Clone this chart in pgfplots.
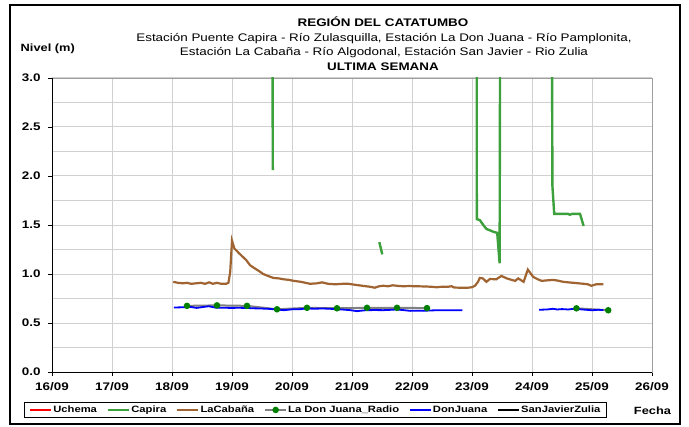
\documentclass[border=0pt]{standalone}
\usepackage{fontspec}
\setmainfont{Liberation Sans}[FakeStretch=1.22]
\usepackage{pgfplots}
\pgfplotsset{compat=1.18}
\definecolor{capira}{RGB}{60,160,60}
\definecolor{cabana}{RGB}{160,100,50}
\definecolor{gridc}{RGB}{208,208,208}
\definecolor{dgreen}{RGB}{0,128,0}
\begin{document}
\begin{tikzpicture}[x=1bp,y=1bp]
\path[use as bounding box] (0,0) rectangle (689,426);
\draw[black, line width=2bp] (10,2) rectangle (680,421);
% titles
\node[anchor=base, font=\bfseries\fontsize{11bp}{13bp}\selectfont, inner sep=0] at (383,426-26.5) {REGIÓN DEL CATATUMBO};
\node[anchor=base, font=\fontsize{11bp}{13bp}\selectfont, inner sep=0] at (384,426-41) {Estación Puente Capira - Río Zulasquilla, Estación La Don Juana - Río Pamplonita,};
\node[anchor=base, font=\fontsize{11bp}{13bp}\selectfont, inner sep=0] at (384,426-55.5) {Estación La Cabaña - Río Algodonal, Estación San Javier - Rio Zulia};
\node[anchor=base, font=\bfseries\fontsize{11bp}{13bp}\selectfont, inner sep=0] at (383,426-70) {ULTIMA SEMANA};
\node[anchor=base west, font=\bfseries\fontsize{10.5bp}{13bp}\selectfont, inner sep=0] at (20.5,426-51) {Nivel (m)};
\node[anchor=base, font=\bfseries\fontsize{10.5bp}{13bp}\selectfont, inner sep=0] at (652.5,426-414) {Fecha};
\begin{axis}[
  at={(52bp,54bp)}, anchor=south west,
  width=600bp, height=294bp, scale only axis,
  xmin=0, xmax=10, ymin=0, ymax=3,
  xtick={0,1,...,10},
  xticklabels={16/09,17/09,18/09,19/09,20/09,21/09,22/09,23/09,24/09,25/09,26/09},
  ytick={0,0.5,...,3},
  minor ytick={0.25,0.75,...,2.75},
  /pgf/number format/assume math mode=true,
  yticklabel style={/pgf/number format/.cd,fixed,fixed zerofill,precision=1,/tikz/.cd,xshift=-4bp},
  ticklabel style={font=\bfseries\fontsize{11bp}{13bp}\selectfont},
  xticklabel style={yshift=-3bp},
  xmajorgrids, ymajorgrids, yminorgrids,
  major grid style={draw=gridc, line width=1bp},
  minor grid style={draw=gridc, line width=1bp},
  axis line style={draw=gray!75, line width=0.9bp},
  tick pos=left, tick align=outside,
  major tick length=4bp, minor tick length=0bp,
  tick style={black, line width=0.8bp},
  unbounded coords=jump,
  legend columns=6,
  legend style={at={(0.439,-0.129)}, anchor=center, draw=black, line width=0.8bp,
    font=\bfseries\fontsize{9.2bp}{11bp}\selectfont,
    inner xsep=5bp, inner ysep=2bp,
    nodes={inner sep=1bp},
    /tikz/every even column/.append style={column sep=9bp}},
  legend image code/.code={\draw[mark repeat=2,mark phase=2,#1] plot coordinates {(0bp,0bp) (10.5bp,0bp) (21bp,0bp)};},
]
\addlegendimage{red, line width=2bp}
\addlegendentry{Uchema}
\addplot[capira, line width=2.4bp, mark=none] coordinates {
(3.672,4) (3.68,2.06)
(3.7,nan)
(5.455,1.325) (5.505,1.2)
(5.6,nan)
(7.078,4) (7.08,1.56) (7.13,1.55) (7.2,1.49) (7.24,1.46) (7.3,1.445) (7.36,1.43) (7.42,1.42) (7.46,1.11) (7.47,4)
(7.6,nan)
(8.33,4) (8.34,1.90) (8.37,1.614) (8.5,1.614) (8.6,1.614) (8.63,1.605) (8.67,1.614) (8.8,1.614) (8.86,1.49)
};
\addlegendentry{Capira}
\addplot[cabana, line width=2.2bp, mark=none] coordinates {
(2.02,0.92) (2.1,0.91) (2.18,0.905) (2.25,0.91) (2.32,0.9) (2.4,0.905) (2.48,0.91) (2.55,0.9) (2.62,0.915) (2.68,0.9) (2.75,0.91) (2.82,0.9) (2.9,0.9) (2.94,0.91) (2.97,1.02) (3.0,1.34) (3.04,1.26) (3.12,1.21) (3.24,1.14) (3.3,1.09) (3.36,1.065) (3.45,1.03) (3.52,1.0) (3.6,0.98) (3.69,0.96) (3.78,0.955) (3.86,0.946) (3.95,0.94) (4.03,0.93) (4.15,0.92) (4.3,0.90) (4.42,0.905) (4.5,0.915) (4.6,0.9) (4.72,0.895) (4.85,0.9) (4.94,0.90) (5.05,0.89) (5.17,0.88) (5.3,0.87) (5.38,0.86) (5.45,0.875) (5.52,0.88) (5.6,0.875) (5.68,0.885) (5.74,0.88) (5.85,0.875) (5.95,0.877) (6.07,0.875) (6.2,0.873) (6.32,0.87) (6.41,0.865) (6.5,0.87) (6.6,0.87) (6.66,0.875) (6.7,0.862) (6.8,0.86) (6.93,0.86) (7.0,0.865) (7.05,0.88) (7.1,0.92) (7.13,0.96) (7.18,0.955) (7.24,0.92) (7.3,0.95) (7.4,0.945) (7.49,0.98) (7.58,0.955) (7.66,0.94) (7.72,0.93) (7.77,0.955) (7.86,0.92) (7.93,1.045) (8.02,0.97) (8.1,0.945) (8.16,0.93) (8.25,0.935) (8.36,0.94) (8.45,0.93) (8.52,0.92) (8.6,0.915) (8.69,0.91) (8.78,0.905) (8.86,0.90) (8.93,0.895) (8.99,0.88) (9.07,0.895) (9.19,0.895)
};
\addlegendentry{LaCabaña}
\addplot[gray, line width=2bp, mark=*, mark size=2.2bp, mark options={fill=dgreen, draw=dgreen}] coordinates {
(2.25,0.675) (2.75,0.68) (3.25,0.675) (3.75,0.64) (4.25,0.655) (4.75,0.65) (5.25,0.655) (5.75,0.655) (6.25,0.652)
(7.5,nan)
(8.74,0.65) (9.27,0.63)
};
\addlegendentry{La Don Juana\_Radio}
\addplot[blue, line width=1.8bp, mark=none] coordinates {
(2.03,0.658) (2.15,0.66) (2.3,0.665) (2.41,0.654) (2.5,0.662) (2.61,0.671) (2.74,0.655) (2.85,0.656) (2.97,0.654) (3.1,0.655) (3.24,0.654) (3.35,0.65) (3.47,0.648) (3.6,0.645) (3.74,0.638) (3.86,0.631) (3.95,0.636) (4.02,0.641) (4.12,0.64) (4.24,0.648) (4.38,0.646) (4.52,0.648) (4.63,0.645) (4.74,0.641) (4.85,0.637) (4.97,0.631) (5.08,0.621) (5.16,0.626) (5.24,0.631) (5.38,0.632) (5.52,0.631) (5.63,0.634) (5.74,0.638) (5.85,0.632) (5.97,0.624) (6.08,0.626) (6.19,0.624) (6.3,0.628) (6.42,0.63) (6.63,0.631) (6.84,0.631)
(7.5,nan)
(8.12,0.635) (8.25,0.638) (8.35,0.645) (8.42,0.638) (8.5,0.642) (8.6,0.638) (8.7,0.645) (8.8,0.64) (8.9,0.635) (9.0,0.63) (9.1,0.635) (9.19,0.632)
};
\addlegendentry{DonJuana}
\addlegendimage{black, line width=2bp}
\addlegendentry{SanJavierZulia}
\end{axis}
\draw[black, line width=1bp] (52,348) -- (52,54) -- (652,54);
\end{tikzpicture}
\end{document}
